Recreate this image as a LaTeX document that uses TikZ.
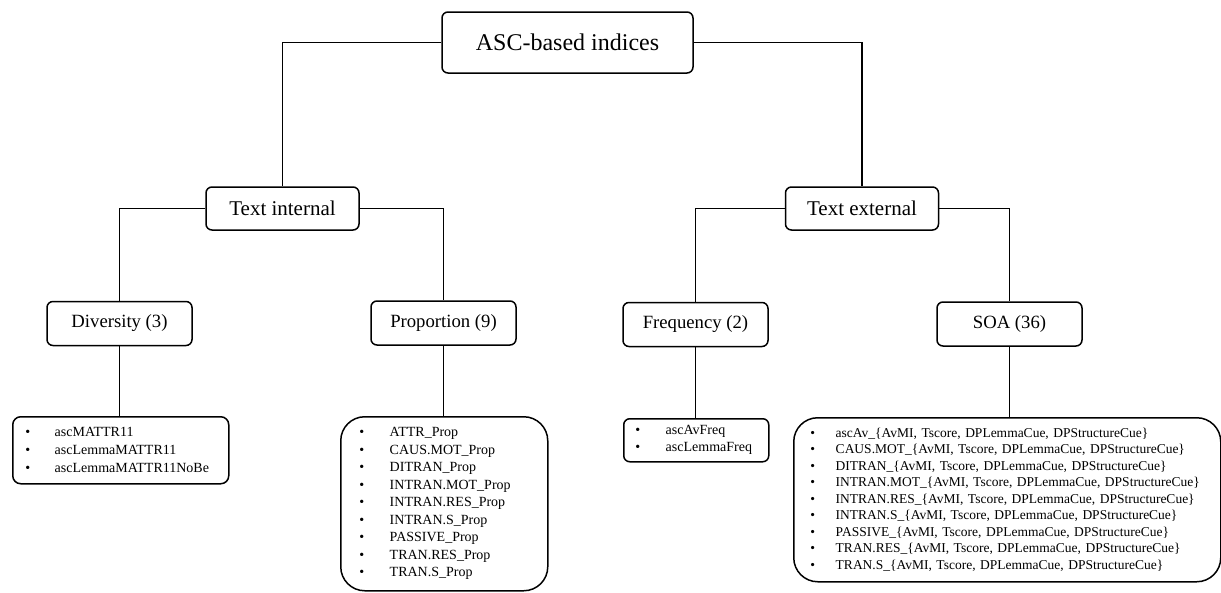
\documentclass[tikz,border=0pt]{standalone}
\usepackage{fontspec}
\setmainfont{Liberation Serif}
\newcommand{\bulw}[2]{\makebox[#1][l]{\textbullet}#2}
\begin{document}
\begin{tikzpicture}[x=1pt,y=-1pt,
  box/.style={draw, line width=1.5pt, rounded corners=6pt, inner sep=0pt, align=center},
  lvl0/.style={box, minimum width=251pt, minimum height=61pt, font=\fontsize{24}{28}\selectfont},
  lvl1/.style={box, minimum width=153pt, minimum height=43pt, font=\fontsize{21}{25}\selectfont},
  lvl2/.style={box, minimum width=145pt, minimum height=44pt, font=\fontsize{18.7}{22}\selectfont},
  listbox/.style={draw, line width=1.5pt, inner ysep=0pt, align=left, anchor=north west},
  conn/.style={line width=1.6pt}
]
\useasboundingbox (0,0) rectangle (1221,592);

\node[lvl0] (root) at (567.5,42.5) {ASC-based indices};
\node[lvl1] (ti) at (282.5,208.5) {Text internal};
\node[lvl1] (te) at (862,208.5) {Text external};
\node[lvl2] (div) at (119.5,323.5) {Diversity (3)};
\node[lvl2] (prop) at (443.5,323) {Proportion (9)};
\node[lvl2] (freq) at (695.5,324.5) {Frequency (2)};
\node[lvl2] (soa) at (1009.5,324) {SOA (36)};

\node[listbox, rounded corners=8pt, inner xsep=12.5pt, text width=191pt, minimum height=67pt,
  font=\fontsize{14}{18}\selectfont] (divl) at (12,416) {%
\bulw{29.5pt}{ascMATTR11}\\
\bulw{29.5pt}{ascLemmaMATTR11}\\
\bulw{29.5pt}{ascLemmaMATTR11NoBe}};

\node[listbox, rounded corners=24pt, inner xsep=18.5pt, text width=170pt, minimum height=174pt,
  font=\fontsize{14}{17.5}\selectfont] (propl) at (340,416) {%
\bulw{30.5pt}{ATTR\_Prop}\\
\bulw{30.5pt}{CAUS.MOT\_Prop}\\
\bulw{30.5pt}{DITRAN\_Prop}\\
\bulw{30.5pt}{INTRAN.MOT\_Prop}\\
\bulw{30.5pt}{INTRAN.RES\_Prop}\\
\bulw{30.5pt}{INTRAN.S\_Prop}\\
\bulw{30.5pt}{PASSIVE\_Prop}\\
\bulw{30.5pt}{TRAN.RES\_Prop}\\
\bulw{30.5pt}{TRAN.S\_Prop}};

\node[listbox, rounded corners=6pt, inner xsep=11.5pt, text width=122pt, minimum height=43pt,
  font=\fontsize{14}{17}\selectfont] (freql) at (623,418) {%
\bulw{30.5pt}{ascAvFreq}\\
\bulw{30.5pt}{ascLemmaFreq}};

\node[listbox, rounded corners=24pt, inner xsep=16.5pt, text width=394pt, minimum height=164pt,
  font=\fontsize{13.5}{16.5}\selectfont] (soal) at (793,417) {%
\bulw{25.5pt}{ascAv\_\{AvMI, Tscore, DPLemmaCue, DPStructureCue\}}\\
\bulw{25.5pt}{CAUS.MOT\_\{AvMI, Tscore, DPLemmaCue, DPStructureCue\}}\\
\bulw{25.5pt}{DITRAN\_\{AvMI, Tscore, DPLemmaCue, DPStructureCue\}}\\
\bulw{25.5pt}{INTRAN.MOT\_\{AvMI, Tscore, DPLemmaCue, DPStructureCue\}}\\
\bulw{25.5pt}{INTRAN.RES\_\{AvMI, Tscore, DPLemmaCue, DPStructureCue\}}\\
\bulw{25.5pt}{INTRAN.S\_\{AvMI, Tscore, DPLemmaCue, DPStructureCue\}}\\
\bulw{25.5pt}{PASSIVE\_\{AvMI, Tscore, DPLemmaCue, DPStructureCue\}}\\
\bulw{25.5pt}{TRAN.RES\_\{AvMI, Tscore, DPLemmaCue, DPStructureCue\}}\\
\bulw{25.5pt}{TRAN.S\_\{AvMI, Tscore, DPLemmaCue, DPStructureCue\}}};

\draw[conn] (root.west) -| (ti.north);
\draw[conn] (root.east) -| (te.north);
\draw[conn] (ti.west) -| (div.north);
\draw[conn] (ti.east) -| (prop.north);
\draw[conn] (te.west) -| (freq.north);
\draw[conn] (te.east) -| (soa.north);
\draw[conn] (div.south) -- (div.south |- divl.north);
\draw[conn] (prop.south) -- (prop.south |- propl.north);
\draw[conn] (freq.south) -- (freq.south |- freql.north);
\draw[conn] (soa.south) -- (soa.south |- soal.north);
\end{tikzpicture}
\end{document}
